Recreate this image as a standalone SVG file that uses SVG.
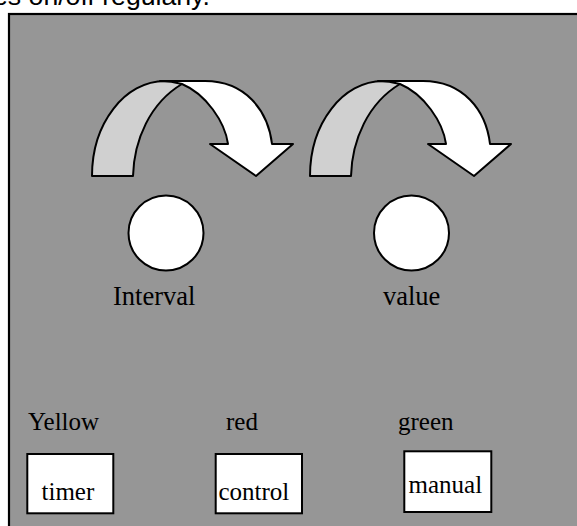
<svg xmlns="http://www.w3.org/2000/svg" xmlns:xlink="http://www.w3.org/1999/xlink" width="577" height="526" viewBox="0 0 577 526">
<style>
.t{font-family:"Liberation Serif","Times New Roman",serif;fill:#000}
.big{font-size:26.5px}
.sm{font-size:25px}
.ln{stroke:#000;stroke-width:2;stroke-linejoin:round}
</style>
<defs>
<g id="curvedArrow">
<path class="ln" fill="#d0d0d0" d="M 92,176 C 92,123.5 124.7,81 165,81 L 175,81 C 178,82 180,83 182,84 C 150,103 134,140 133,176 Z"/>
<path class="ln" fill="#ffffff" d="M 160,81 L 205,81 C 245,81 268,110 272,144 L 293,144 L 256,176 L 210,144 L 228,144 C 225,122 206,94 182,84 C 175,82 168,81 160,81 Z"/>
</g>
</defs>
<rect width="577" height="526" fill="#ffffff"/>
<text x="-7" y="5" font-family="Liberation Sans, Arial, sans-serif" font-size="26.67" fill="#000">es on/off regularly.</text>
<rect id="panel" x="9" y="14" width="580" height="530" fill="#969696" stroke="#000" stroke-width="2.2"/>
<g id="connectors">
<use id="arrow1" xlink:href="#curvedArrow" href="#curvedArrow"/>
<use id="arrow2" xlink:href="#curvedArrow" href="#curvedArrow" transform="translate(218,0)"/>
</g>
<g id="interval">
<circle cx="166" cy="233" r="37.5" fill="#fff" stroke="#000" stroke-width="2"/>
<text class="t big" x="113" y="305">Interval</text>
</g>
<g id="value">
<circle cx="411.5" cy="233" r="37.5" fill="#fff" stroke="#000" stroke-width="2"/>
<text class="t big" x="383" y="305">value</text>
</g>
<g id="timer">
<text class="t sm" x="28" y="430">Yellow</text>
<rect x="27.3" y="454" width="86" height="59.3" fill="#fff" stroke="#000" stroke-width="2"/>
<text class="t sm" x="41.5" y="500">timer</text>
</g>
<g id="control">
<text class="t sm" x="226" y="430">red</text>
<rect x="215.7" y="454" width="86.3" height="59.3" fill="#fff" stroke="#000" stroke-width="2"/>
<text class="t sm" x="218.5" y="500">control</text>
</g>
<g id="manual">
<text class="t sm" x="398" y="430">green</text>
<rect x="404.3" y="451.3" width="87" height="60.7" fill="#fff" stroke="#000" stroke-width="2"/>
<text class="t sm" x="408.5" y="493.3">manual</text>
</g>
</svg>
